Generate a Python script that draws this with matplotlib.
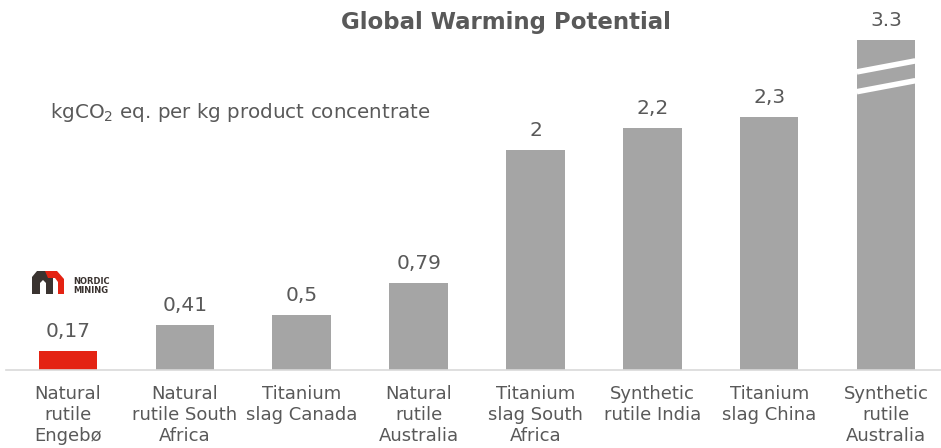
import matplotlib
matplotlib.use("Agg")
import matplotlib.pyplot as plt
from matplotlib.patches import Polygon
from matplotlib.transforms import Affine2D

categories = ["Natural\nrutile\nEngebø", "Natural\nrutile South\nAfrica", "Titanium\nslag Canada",
              "Natural\nrutile\nAustralia", "Titanium\nslag South\nAfrica", "Synthetic\nrutile India",
              "Titanium\nslag China", "Synthetic\nrutile\nAustralia"]
values = [0.17, 0.41, 0.5, 0.79, 2.0, 2.2, 2.3, 3.3]
value_labels = ["0,17", "0,41", "0,5", "0,79", "2", "2,2", "2,3", "3.3"]
axis_cap = 3.0  # broken bar drawn up to this value

TEXT = "#595959"
GREY = "#A5A5A5"
RED = "#E42313"

W, H = 941, 448
fig = plt.figure(figsize=(W / 100, H / 100), dpi=100)
ax = fig.add_axes([6 / W, 78 / H, 935 / W, 370 / H])

colors = [RED] + [GREY] * (len(values) - 1)
drawn = [min(v, axis_cap) for v in values]
x = list(range(len(values)))
ax.bar(x, drawn, width=0.5, color=colors, zorder=2)

for xi, d, lab in zip(x, drawn, value_labels):
    ax.annotate(lab, (xi, d), xytext=(0, 10), textcoords="offset points",
                ha="center", va="baseline", fontsize=14.5, color=TEXT)

# break marks on the capped bar
for i, (v, d) in enumerate(zip(values, drawn)):
    if v > d:
        for off in (0.29, 0.47):
            ax.plot([i - 0.25, i + 0.25], [d - off, d - off + 0.1], color="white",
                    lw=4.0, solid_capstyle="butt", zorder=3)

ax.set_xlim(-0.53, 7.47)
ax.set_ylim(0, 370 / 110)
ax.set_xticks(x)
ax.set_xticklabels(categories, fontsize=13, color=TEXT, linespacing=1.2)
ax.tick_params(axis="x", length=0, pad=11)
ax.set_yticks([])
for s in ["top", "right", "left"]:
    ax.spines[s].set_visible(False)
ax.spines["bottom"].set_color("#D9D9D9")
ax.spines["bottom"].set_linewidth(1.2)

fig.text(506 / W, 1 - 22 / H, "Global Warming Potential", ha="center", va="center",
         fontsize=16.5, fontweight="bold", color=TEXT)
fig.text(50 / W, 1 - 112 / H, r"kgCO$_2$ eq. per kg product concentrate", ha="left",
         va="center", fontsize=14.3, color=TEXT)

# Nordic Mining logo (approximation)
px = Affine2D().scale(1 / W, -1 / H).translate(0, 1) + fig.transFigure
dark = [(32, 294), (32, 277), (37, 271), (46, 271), (53, 278), (53, 294), (46, 294),
        (46, 283), (43, 280), (40, 283), (40, 294)]
red = [(45, 271), (57, 271), (64, 279), (64, 294), (58, 294), (58, 282), (55, 278), (48, 278)]
fig.patches.append(Polygon(dark, closed=True, transform=px, facecolor="#3A3330", edgecolor="none"))
fig.patches.append(Polygon(red, closed=True, transform=px, facecolor=RED, edgecolor="none"))
fig.text(73 / W, 1 - 286 / H, "NORDIC\nMINING", ha="left", va="center", fontsize=6,
         fontweight="bold", color="#3A3330", linespacing=0.9)

fig.savefig("out.png", dpi=100)
